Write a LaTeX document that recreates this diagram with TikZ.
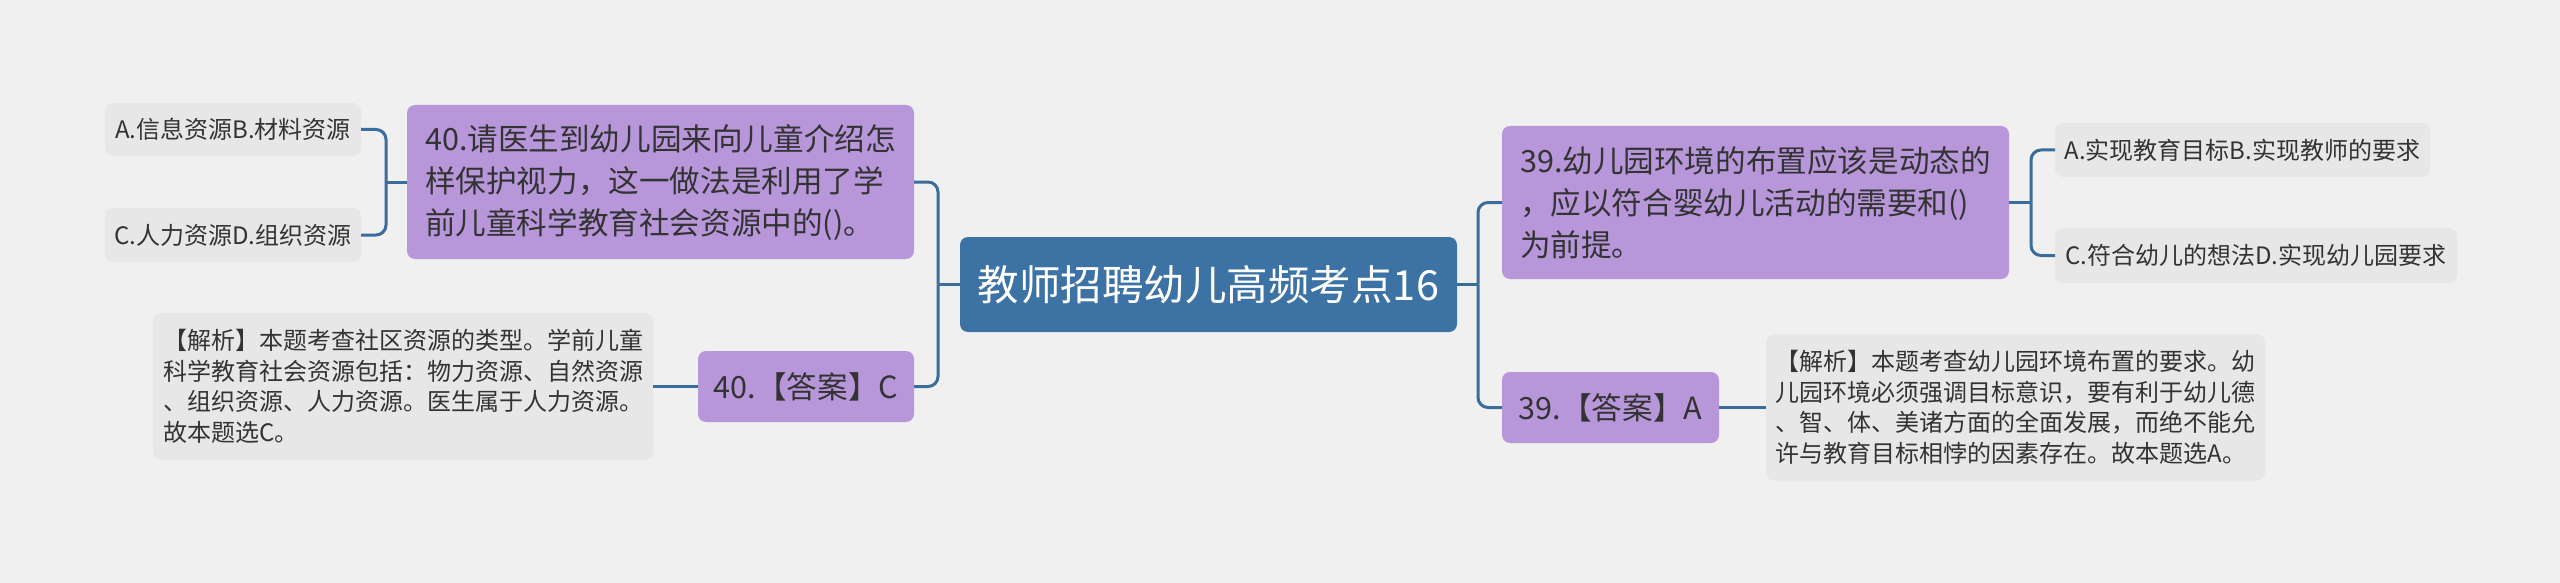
\documentclass[tikz,border=0pt]{standalone}
\usepackage{fontspec}
\setmainfont{Noto Sans CJK SC}
\definecolor{bgc}{HTML}{F0F0F0}
\definecolor{rootc}{HTML}{3D72A5}
\definecolor{linkc}{HTML}{3B6D9C}
\definecolor{quesc}{HTML}{B797D9}
\definecolor{notec}{HTML}{E7E7E7}
\definecolor{textc}{HTML}{333333}
\begin{document}
\begin{tikzpicture}[x=1pt,y=-1pt,
    every node/.style={inner sep=0pt,outer sep=0pt,rounded corners=8pt,align=left,text=textc},
    rootbox/.style={fill=rootc,text=white,font=\fontsize{41.5}{50}\selectfont},
    quesbox/.style={fill=quesc,font=\fontsize{30.6}{42}\selectfont},
    optbox/.style={fill=notec,font=\fontsize{24}{30}\selectfont},
    notebox/.style={fill=notec,font=\fontsize{24}{30.5}\selectfont},
    link/.style={draw=linkc,line width=3pt,rounded corners=10pt}]
    \useasboundingbox[fill=bgc] (0,0) rectangle (2560,583);
    \node[rootbox,minimum width=497pt,minimum height=95pt] (root) at (1208.5,284.5) {教师招聘幼儿高频考点16};
    \begin{scope}
        \node[quesbox,minimum width=507pt,minimum height=154pt] (q40) at (660.5,182)
            {40.请医生到幼儿园来向儿童介绍怎\\样保护视力，这一做法是利用了学\\前儿童科学教育社会资源中的()。};
        \node[optbox,minimum width=256pt,minimum height=53pt] (opt40a) at (233,129.5) {A.信息资源B.材料资源};
        \node[optbox,minimum width=256pt,minimum height=54pt] (opt40c) at (233,235) {C.人力资源D.组织资源};
        \node[quesbox,minimum width=216pt,minimum height=71pt] (ans40) at (806,386.5) {40.【答案】C};
        \node[notebox,minimum width=500pt,minimum height=147pt] (note40) at (403,386.5)
            {【解析】本题考查社区资源的类型。学前儿童\\科学教育社会资源包括：物力资源、自然资源\\、组织资源、人力资源。医生属于人力资源。\\故本题选C。};
        \coordinate (lj) at (938,284.5);
        \coordinate (lq) at (386,182);
        \draw[link] (root.west) -- (lj);
        \draw[link] (lj) |- (q40.east);
        \draw[link] (lj) |- (ans40.east);
        \draw[link] (q40.west) -- (lq);
        \draw[link] (lq) |- (opt40a.east);
        \draw[link] (lq) |- (opt40c.east);
        \draw[link] (ans40.west) -- (note40.east);
    \end{scope}
    \begin{scope}
        \node[quesbox,minimum width=507pt,minimum height=153pt] (q39) at (1755.5,202.5)
            {39.幼儿园环境的布置应该是动态的\\，应以符合婴幼儿活动的需要和()\\为前提。};
        \node[optbox,minimum width=375pt,minimum height=54pt] (opt39a) at (2242.5,150) {A.实现教育目标B.实现教师的要求};
        \node[optbox,minimum width=402pt,minimum height=55pt] (opt39c) at (2256,255.5) {C.符合幼儿的想法D.实现幼儿园要求};
        \node[quesbox,minimum width=217pt,minimum height=71pt] (ans39) at (1610.5,407.5) {39.【答案】A};
        \node[notebox,minimum width=499pt,minimum height=146pt] (note39) at (2015.5,407.5)
            {【解析】本题考查幼儿园环境布置的要求。幼\\儿园环境必须强调目标意识，要有利于幼儿德\\、智、体、美诸方面的全面发展，而绝不能允\\许与教育目标相悖的因素存在。故本题选A。};
        \coordinate (rj) at (1478,284.5);
        \coordinate (rq) at (2031,202.5);
        \draw[link] (root.east) -- (rj);
        \draw[link] (rj) |- (q39.west);
        \draw[link] (rj) |- (ans39.west);
        \draw[link] (q39.east) -- (rq);
        \draw[link] (rq) |- (opt39a.west);
        \draw[link] (rq) |- (opt39c.west);
        \draw[link] (ans39.east) -- (note39.west);
    \end{scope}
\end{tikzpicture}
\end{document}
